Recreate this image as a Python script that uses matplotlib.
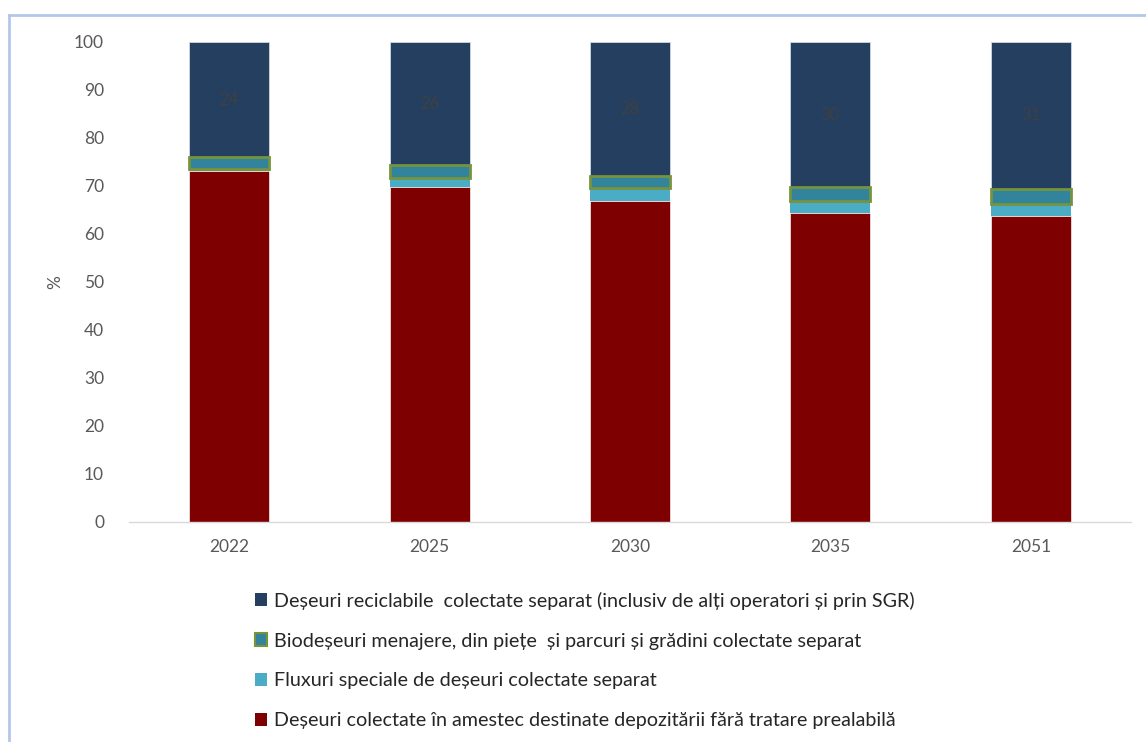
import numpy as np
import matplotlib
matplotlib.use("Agg")
from matplotlib import pyplot as plt
from matplotlib.lines import Line2D

plt.rcParams['font.family'] = ['Lato', 'DejaVu Sans']

years = ["2022", "2025", "2030", "2035", "2051"]
# values in %
amestec = [73.2, 69.8, 66.9, 64.3, 63.8]     # mixed waste to landfill
fluxuri = [0.3, 1.9, 2.6, 2.6, 2.4]          # special streams
biodeseuri = [2.5, 2.6, 2.6, 2.8, 3.2]       # biowaste
reciclabile = [24.0, 25.7, 27.9, 30.3, 30.6]  # recyclables (labelled, rounded)

lab_rec = "Deșeuri reciclabile  colectate separat (inclusiv de alți operatori și prin SGR)"
lab_bio = "Biodeșeuri menajere, din piețe  și parcuri și grădini colectate separat"
lab_flx = "Fluxuri speciale de deșeuri colectate separat"
lab_ame = "Deșeuri colectate în amestec destinate depozitării fără tratare prealabilă"

c_rec = "#243F60"
c_bio = "#31849B"
c_bio_edge = "#77933C"
c_flx = "#4BACC6"
c_ame = "#7F0000"

fig = plt.figure(figsize=(11.46, 7.42), dpi=100)
ax = fig.add_axes([0.1126, 0.2965, 0.8743, 0.6469])

x = np.arange(len(years))
w = 0.4
b1 = np.array(amestec)
b2 = b1 + np.array(fluxuri)
b3 = b2 + np.array(biodeseuri)

ax.bar(x, amestec, w, color=c_ame, edgecolor="#F2F2F2", linewidth=0.5, zorder=2)
ax.bar(x, fluxuri, w, bottom=b1, color=c_flx, linewidth=0, zorder=2)
ax.bar(x, reciclabile, w, bottom=b3, color=c_rec, edgecolor="#D0D8E4", linewidth=0.6, zorder=2)
ax.bar(x, biodeseuri, w, bottom=b2, color=c_bio, edgecolor=c_bio_edge, linewidth=2, zorder=3)

for xi, b, v in zip(x, b3, reciclabile):
    ax.text(xi, b + v / 2, f"{v:.0f}", ha="center", va="center", fontsize=12, color="#404040", zorder=4)

ax.set_xlim(-0.5, 4.5)
ax.set_ylim(0, 100)
ax.set_yticks(range(0, 101, 10))
ax.set_xticks(x)
ax.set_xticklabels(years)
ax.tick_params(axis="both", length=0, labelsize=12.5, labelcolor="#595959")
ax.tick_params(axis="y", pad=18)
ax.tick_params(axis="x", pad=12)
for s in ["top", "right", "left"]:
    ax.spines[s].set_visible(False)
ax.spines["bottom"].set_color("#D9D9D9")
ax.spines["bottom"].set_linewidth(1)
ax.set_ylabel("%", fontsize=12.5, color="#595959", labelpad=8)

handles = [
    plt.Rectangle((0, 0), 1, 1, facecolor=c_rec, edgecolor="none"),
    plt.Rectangle((0, 0), 1, 1, facecolor=c_bio, edgecolor=c_bio_edge, linewidth=1.5),
    plt.Rectangle((0, 0), 1, 1, facecolor=c_flx, edgecolor="none"),
    plt.Rectangle((0, 0), 1, 1, facecolor=c_ame, edgecolor="none"),
]
fig.legend(handles, [lab_rec, lab_bio, lab_flx, lab_ame], loc="upper left",
           bbox_to_anchor=(0.214, 0.216), frameon=False, fontsize=14.2,
           handlelength=0.6, handleheight=0.6, handletextpad=0.35,
           labelspacing=1.16, borderpad=0, labelcolor="#262626")

# light blue frame of the original (top and left edges only visible)
fig.add_artist(Line2D([9 / 1146, 1], [1 - 15 / 742, 1 - 15 / 742], color="#B4C7E7", lw=2, transform=fig.transFigure))
fig.add_artist(Line2D([9 / 1146, 9 / 1146], [0, 1 - 15 / 742], color="#B4C7E7", lw=2, transform=fig.transFigure))

fig.savefig("out.png", dpi=100)
